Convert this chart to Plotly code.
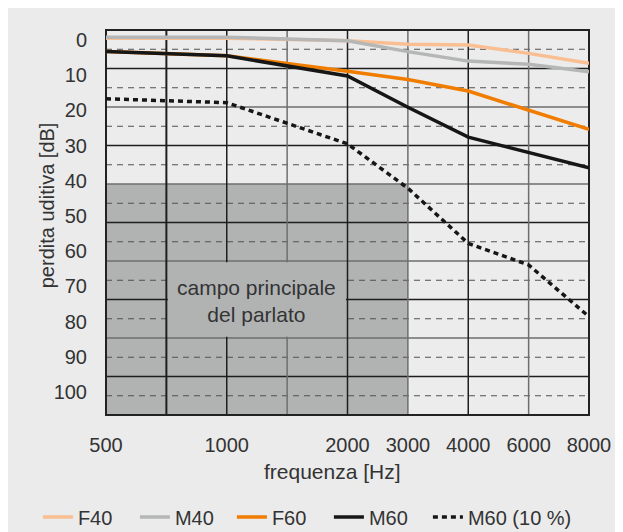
import plotly.graph_objects as go

# ---- data ----
audiometric_freqs = ["500", "750", "1000", "1500", "2000", "3000", "4000", "6000", "8000"]
freqs = ["500", "1000", "2000", "3000", "4000", "6000", "8000"]
tick_labels = ["500", "1000", "2000", "3000", "4000", "6000", "8000"]
db_ticks = [0, 10, 20, 30, 40, 50, 60, 70, 80, 90, 100]

F40 = [-0.5, -0.5, 0.2, 1.2, 1.4, 3.8, 6.6]
M40 = [-0.8, -0.8, 0.2, 3.3, 6.0, 6.9, 9.0]
F60 = [3.3, 4.5, 8.9, 11.2, 14.5, 19.9, 25.4]
M60 = [3.3, 4.5, 10.2, 19.1, 27.6, 32.0, 36.3]
M60_10 = [16.7, 17.8, 29.5, 42.1, 57.8, 63.9, 78.6]

series_names = ["F40", "M40", "F60", "M60", "M60 (10 %)"]
series_values = [F40, M40, F60, M60, M60_10]
series_colors = ["#f9be92", "#b5b6b6", "#f07d00", "#161616", "#161616"]
series_dash = ["solid", "solid", "solid", "solid", "5px,4px"]
series_legend = ["legend", "legend", "legend", "legend", "legend2"]

speech_label = "campo principale<br>del parlato"
speech_upper_freq = "3000"

# ---- figure ----
FONT = "Liberation Sans, Arial, Helvetica, sans-serif"
TXT = "#333333"
BG = "#ebebeb"
BOX = "#b1b3b3"
DARK = "#1e1e1e"
MID = "#6e6e6e"

def idx(f):
    return audiometric_freqs.index(f)

fig = go.Figure()
for name, vals, col, dash, lg in zip(series_names, series_values, series_colors,
                                     series_dash, series_legend):
    fig.add_trace(go.Scatter(
        x=freqs, y=vals, name=name, mode="lines", legend=lg,
        line=dict(color=col, width=3.5, dash=dash),
    ))

shapes = []
# speech area box
shapes.append(dict(type="rect", xref="x", yref="y domain",
                   x0=idx("500"), x1=idx(speech_upper_freq), y0=0, y1=0.6,
                   fillcolor=BOX, line=dict(width=0), layer="below"))
# horizontal grid (20 bands)
for k in range(1, 20):
    yd = 1 - k / 20
    if k % 2 == 1:
        ln = dict(color="#505050", width=1, dash="6px,5px")
    else:
        ln = dict(color=DARK if k % 4 == 2 else MID, width=1.5)
    shapes.append(dict(type="line", xref="x domain", yref="y domain",
                       x0=0, x1=1, y0=yd, y1=yd, line=ln, layer="below"))
# vertical grid
for f in audiometric_freqs[1:-1]:
    i = idx(f)
    col = DARK if i in (1, 2, 4, 6) else MID
    w = 2 if i == 1 else 1.5
    shapes.append(dict(type="line", xref="x", yref="y domain",
                       x0=i, x1=i, y0=0, y1=1, line=dict(color=col, width=w), layer="below"))
# label box covering grid
shapes.append(dict(type="rect", xref="x", yref="y domain",
                   x0=idx("750") + 0.025, x1=idx("2000") - 0.025, y0=0.203, y1=0.397,
                   fillcolor=BOX, line=dict(width=0), layer="below"))
# frame
shapes.append(dict(type="rect", xref="x domain", yref="y domain",
                   x0=0, x1=1, y0=0, y1=1,
                   line=dict(color="#222222", width=2), layer="below"))

annotations = [
    dict(text=speech_label, xref="x domain", yref="y domain", x=0.3125, y=0.296,
         showarrow=False, font=dict(family=FONT, size=21, color=TXT),
         xanchor="center", yanchor="middle"),
    dict(text="frequenza [Hz]", xref="paper", yref="paper", x=0.468, y=-0.147,
         showarrow=False, font=dict(family=FONT, size=21, color=TXT),
         xanchor="center", yanchor="middle"),
    dict(text="perdita uditiva [dB]", xref="paper", yref="paper", x=-0.122, y=0.545,
         textangle=-90, showarrow=False, font=dict(family=FONT, size=20, color=TXT),
         xanchor="center", yanchor="middle"),
]

legend_common = dict(orientation="h", xanchor="left", xref="container", yref="container",
                     y=0.0432, yanchor="middle", bgcolor="rgba(0,0,0,0)",
                     font=dict(family=FONT, size=20, color=TXT), traceorder="normal")

fig.update_layout(
    width=623, height=532,
    margin=dict(l=98, r=42, t=22, b=125),
    paper_bgcolor=BG,
    plot_bgcolor="#ececec",
    font=dict(family=FONT, size=20, color=TXT),
    shapes=shapes,
    annotations=annotations,
    showlegend=True,
    legend=dict(x=0.048, entrywidth=52, entrywidthmode="pixels", **legend_common),
    legend2=dict(x=0.674, **legend_common),
    xaxis=dict(type="category", categoryorder="array", categoryarray=audiometric_freqs,
               range=[0, 8], tickvals=freqs, ticktext=tick_labels,
               showgrid=False, zeroline=False, showline=False,
               ticks="outside", ticklen=0, ticklabelstandoff=12, fixedrange=True),
    yaxis=dict(range=[106.53, -2.84], tickvals=db_ticks,
               showgrid=False, zeroline=False, showline=False,
               ticks="outside", ticklen=0, ticklabelstandoff=14, fixedrange=True),
)

fig.write_html("out.html")
